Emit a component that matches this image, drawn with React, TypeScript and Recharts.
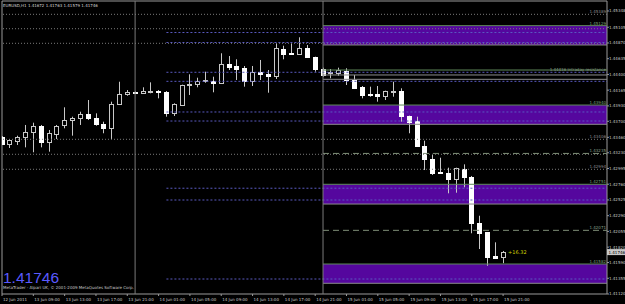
import {
  ComposedChart,
  Bar,
  XAxis,
  YAxis,
  ReferenceLine,
  ReferenceArea,
  ReferenceDot,
} from "recharts";

// EURUSD H1 candles, bar index 0..64
const opens = [
  1.4347, 1.43361, 1.4341, 1.4347, 1.43535, 1.43634, 1.43386, 1.4351, 1.43645, 1.43719,
  1.43745, 1.43804, 1.43745, 1.43655, 1.43595, 1.43958, 1.44108, 1.44137, 1.44118, 1.44137,
  1.44157, 1.44133, 1.43828, 1.43943, 1.44238, 1.44253, 1.44297, 1.44302, 1.44267, 1.44556,
  1.4453, 1.44492, 1.44302, 1.44441, 1.44411, 1.44381, 1.4478, 1.44716, 1.44701, 1.44799,
  1.44656, 1.44486, 1.44415, 1.44417, 1.44456, 1.44317, 1.44217, 1.44112, 1.44108, 1.44082,
  1.44133, 1.44152, 1.43779, 1.43704, 1.43335, 1.43141, 1.42942, 1.42923, 1.42838, 1.42992,
  1.42872, 1.42185, 1.42041, 1.41683, 1.41672,
];
const highs = [
  1.4348, 1.43435, 1.43485, 1.43645, 1.43679, 1.43645, 1.4357, 1.43645, 1.43909, 1.43769,
  1.43843, 1.44018, 1.43819, 1.43694, 1.43993, 1.44291, 1.44167, 1.44145, 1.44208, 1.44282,
  1.44167, 1.44152, 1.43969, 1.44247, 1.44402, 1.44351, 1.44441, 1.44366, 1.44716, 1.44675,
  1.44626, 1.44526, 1.44526, 1.44616, 1.44466, 1.44865, 1.44829, 1.44865, 1.44955, 1.4484,
  1.44665, 1.44501, 1.44481, 1.44501, 1.44492, 1.44392, 1.44227, 1.44217, 1.44227, 1.44157,
  1.44291, 1.44193, 1.43785, 1.43769, 1.4341, 1.43196, 1.43156, 1.43007, 1.43007, 1.43057,
  1.42883, 1.42289, 1.42046, 1.41892, 1.41763,
];
const lows = [
  1.43346, 1.43301, 1.43346, 1.43311, 1.43237, 1.43311, 1.43246, 1.43435, 1.43595, 1.43485,
  1.43645, 1.43719, 1.43634, 1.43521, 1.43435, 1.43943, 1.44082, 1.44115, 1.44116, 1.44118,
  1.44043, 1.43769, 1.43779, 1.43928, 1.44093, 1.44208, 1.44276, 1.44133, 1.44257, 1.44466,
  1.44317, 1.44217, 1.44227, 1.44317, 1.44127, 1.44332, 1.44626, 1.44698, 1.44698, 1.44653,
  1.44441, 1.44366, 1.44342, 1.44381, 1.44242, 1.44182, 1.44043, 1.44067, 1.43993, 1.44018,
  1.44067, 1.43694, 1.43521, 1.4333, 1.42972, 1.42898, 1.42918, 1.42624, 1.42633, 1.42714,
  1.42027, 1.41792, 1.41542, 1.41648, 1.41579,
];
const closes = [
  1.43361, 1.4342, 1.4347, 1.43535, 1.43634, 1.43386, 1.43521, 1.43634, 1.43719, 1.43745,
  1.43809, 1.43745, 1.43655, 1.43595, 1.43958, 1.44108, 1.44142, 1.44118, 1.44157, 1.44157,
  1.44137, 1.43828, 1.43954, 1.44242, 1.44253, 1.44306, 1.44317, 1.44272, 1.44556, 1.44516,
  1.44486, 1.44302, 1.44441, 1.44406, 1.44381, 1.4479, 1.4471, 1.44701, 1.4479, 1.44656,
  1.44486, 1.44392, 1.4443, 1.44466, 1.44317, 1.44202, 1.44093, 1.44093, 1.44078, 1.44152,
  1.44152, 1.43779, 1.43694, 1.43335, 1.43141, 1.42932, 1.42923, 1.42838, 1.42998, 1.42872,
  1.42185, 1.42027, 1.41668, 1.41653, 1.41746,
];

const timeTicks = [0, 4, 8, 12, 16, 20, 24, 28, 32, 36, 40, 44, 48, 52, 56, 60, 64];
const timeLabels = [
  "12 Jun 2011", "13 Jun 09:00", "13 Jun 13:00", "13 Jun 17:00", "13 Jun 21:00",
  "14 Jun 01:00", "14 Jun 05:00", "14 Jun 09:00", "14 Jun 13:00", "14 Jun 17:00",
  "14 Jun 21:00", "15 Jun 01:00", "15 Jun 05:00", "15 Jun 09:00", "15 Jun 13:00",
  "15 Jun 17:00", "15 Jun 21:00",
];
const priceTicks = [
  1.45348, 1.45105, 1.4487, 1.44635, 1.444, 1.44165, 1.4393, 1.437, 1.4346, 1.4323,
  1.42995, 1.4276, 1.42525, 1.4229, 1.42055, 1.4182, 1.4159, 1.41355, 1.4112,
];

// levels drawn by indicators
const pivotLevels = [1.45298, 1.45083, 1.44865, 1.43431, 1.43207, 1.42983];
const pivotTexts = ["1.45389", "", "", "1.43406", "", "1.42994"];
const zoneTops = [1.45129, 1.43943, 1.42759, 1.41568];
const zoneBottoms = [1.4484, 1.43655, 1.42464, 1.4128];
const zoneTexts = ["1.45129", "1.43940", "1.42751", "1.41582"];
const midLevels = [
  1.45026, 1.44877, 1.44432, 1.44297, 1.43839, 1.43704, 1.427, 1.42524, 1.41344,
];
const boxLevels = [1.44466, 1.44392, 1.44327];
const dashLevels = [1.4322, 1.42071];
const dashTexts = ["1.43235", "1.42071"];

const lastPrice = 1.41746;
const daySeparators = [17, 41];

const X_MAX = 77.27;
const Y_MIN = 1.4112;
const Y_MAX = 1.45497;
const FONT = "DejaVu Sans, sans-serif";
const PURPLE = "#55079e";

const data = opens.map((o, k) => ({
  k,
  open: o,
  high: highs[k],
  low: lows[k],
  close: closes[k],
  range: [lows[k], highs[k]],
}));

const Candle = (props: any) => {
  const { x, y, width, height, payload } = props;
  if (x == null || !payload) return null;
  const { open, high, low, close } = payload;
  const cx = Math.round(x + width / 2) + 0.5;
  const toY = (v: number) => y + ((high - v) / (high - low)) * height;
  const bull = close > open;
  const top = Math.round(toY(Math.max(open, close))) + 0.5;
  const bot = Math.round(toY(Math.min(open, close))) + 0.5;
  return (
    <g>
      <line x1={cx} x2={cx} y1={toY(high)} y2={toY(low)} stroke="#c8c8c8" />
      <rect
        x={cx - 2}
        y={top}
        width={4}
        height={Math.max(bot - top, 0.5)}
        fill={bull ? "#000" : "#fff"}
        stroke={bull ? "#c8c8c8" : "#fff"}
      />
    </g>
  );
};

const TimeTick = ({ x, y, payload }: any) => {
  const i = timeTicks.indexOf(payload.value);
  return (
    <text x={x + 1} y={y + 3} fontSize={4} fill="#c8c8c8" fontFamily={FONT}>
      {timeLabels[i]}
    </text>
  );
};

const smallLabel = (value: string, fill: string) => ({
  value,
  position: "insideBottomRight" as const,
  offset: 1,
  fontSize: 4,
  fill,
  fontFamily: FONT,
});

const PriceTag = ({ viewBox }: any) => {
  if (!viewBox) return null;
  const px = viewBox.x + viewBox.width;
  return (
    <g>
      <rect x={px} y={viewBox.y - 3} width={18} height={6} fill="#c8c8c8" />
      <text x={px + 1.5} y={viewBox.y + 1.5} fontSize={4} fill="#000" fontFamily={FONT}>
        {lastPrice.toFixed(5)}
      </text>
    </g>
  );
};

export default function App() {
  return (
    <div style={{ position: "relative", width: 625, height: 304, background: "#000" }}>
      <style>{`body{margin:0;background:#000}`}</style>
      <ComposedChart
        width={625}
        height={304}
        data={data}
        margin={{ top: 1, right: 0, bottom: 0, left: 2 }}
      >
        <XAxis
          dataKey="k"
          type="number"
          domain={[0, X_MAX]}
          allowDataOverflow
          ticks={timeTicks}
          interval={0}
          height={10}
          tick={<TimeTick />}
          tickSize={2}
          tickLine={{ stroke: "#999" }}
          axisLine={false}
        />
        <YAxis
          orientation="right"
          type="number"
          domain={[Y_MIN, Y_MAX]}
          allowDataOverflow
          ticks={priceTicks}
          interval={0}
          width={18}
          tickSize={2}
          tickMargin={0}
          tickLine={{ stroke: "#999" }}
          axisLine={false}
          tickFormatter={(v) => v.toFixed(5)}
          tick={{ fontSize: 4, fill: "#c8c8c8", fontFamily: FONT }}
        />

        {zoneTops.map((t, i) => (
          <ReferenceArea
            key={"z" + i}
            x1={41}
            x2={X_MAX}
            y1={zoneBottoms[i]}
            y2={t}
            fill={PURPLE}
            fillOpacity={1}
            stroke="none"
          />
        ))}
        {zoneBottoms.map((b, i) => (
          <ReferenceLine
            key={"zb" + i}
            segment={[{ x: 41, y: b }, { x: X_MAX, y: b }]}
            stroke="#8c8c8c"
          />
        ))}
        {zoneTops.map((t, i) => (
          <ReferenceLine
            key={"zt" + i}
            segment={[{ x: 41, y: t }, { x: X_MAX, y: t }]}
            stroke="#5f8a5a"
            label={smallLabel(zoneTexts[i], "#7fa07a")}
          />
        ))}

        {pivotLevels.map((p, i) => (
          <ReferenceLine
            key={"p" + i}
            y={p}
            stroke="#7a7a7a"
            strokeDasharray="1 2"
            label={pivotTexts[i] ? smallLabel(pivotTexts[i], "#8a8a8a") : undefined}
          />
        ))}
        {midLevels.map((p, i) => (
          <ReferenceLine
            key={"m" + i}
            segment={[{ x: 21, y: p }, { x: X_MAX, y: p }]}
            stroke="#5a5ac0"
            strokeDasharray="2 2"
            label={i === 2 ? smallLabel("1.44436  Intraday resistance", "#8aa08a") : undefined}
          />
        ))}
        {boxLevels.map((p, i) => (
          <ReferenceLine
            key={"b" + i}
            segment={[{ x: 41, y: p }, { x: X_MAX, y: p }]}
            stroke={i === 0 ? "#5f8a5a" : "#8c8c8c"}
          />
        ))}
        {dashLevels.map((p, i) => (
          <ReferenceLine
            key={"d" + i}
            segment={[{ x: 41, y: p }, { x: X_MAX, y: p }]}
            stroke="#7f8f77"
            strokeDasharray="6 4"
            label={smallLabel(dashTexts[i], "#8aa08a")}
          />
        ))}

        {daySeparators.map((k) => (
          <ReferenceLine key={"s" + k} x={k} stroke="#7a7a7a" />
        ))}
        <ReferenceArea
          x1={0}
          x2={X_MAX}
          y1={Y_MIN}
          y2={Y_MAX}
          fill="none"
          stroke="#9a9a9a"
        />

        <Bar
          dataKey="range"
          barSize={5}
          shape={<Candle />}
          isAnimationActive={false}
        />

        <ReferenceDot
          x={64}
          y={lastPrice}
          r={1}
          fill="none"
          stroke="none"
          label={{
            value: "+16.32",
            position: "right",
            offset: 4,
            fontSize: 5,
            fill: "#d0d000",
            fontFamily: FONT,
          }}
        />
        <ReferenceLine y={lastPrice} stroke="none" label={<PriceTag />} />
      </ComposedChart>

      <svg
        width={625}
        height={304}
        style={{ position: "absolute", left: 0, top: 0, pointerEvents: "none" }}
      >
        <text x={3} y={7} fontSize={4} fill="#d8d8d8" fontFamily={FONT}>
          EURUSD,H1  1.41672 1.41763 1.41579 1.41746
        </text>
        <text x={3} y={283} fontSize={15.5} fill="#5a5aff" fontFamily="Liberation Sans, Arial, sans-serif">
          1.41746
        </text>
        <text x={3} y={289} fontSize={4} fill="#c8c8c8" fontFamily={FONT}>
          MetaTrader - Alpari UK, © 2001-2009 MetaQuotes Software Corp.
        </text>
      </svg>
    </div>
  );
}
